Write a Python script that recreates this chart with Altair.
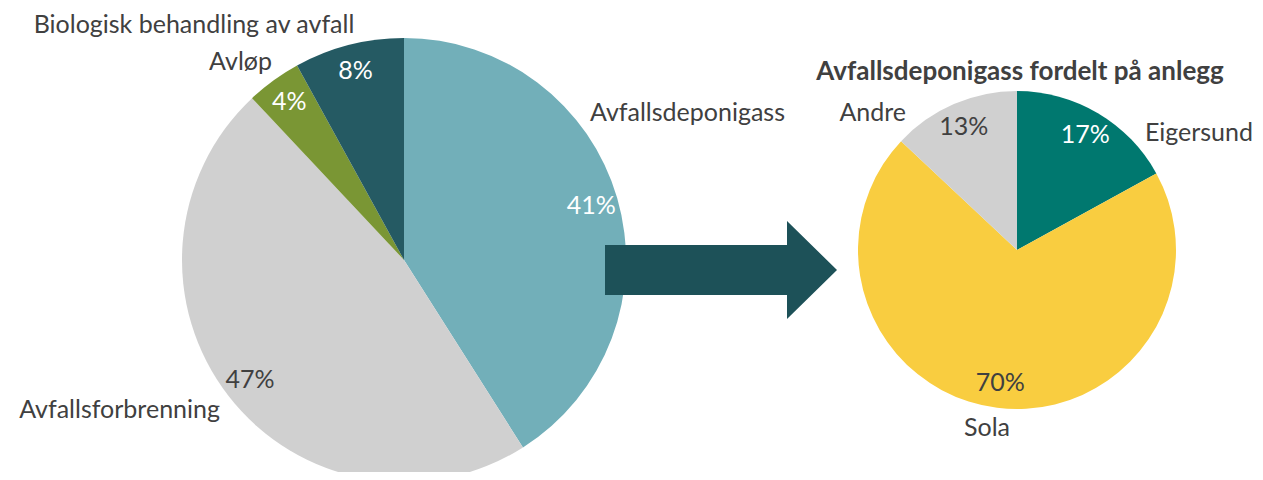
import altair as alt
import pandas as pd

# ---- data ----
left_categories = ["Avfallsdeponigass", "Avfallsforbrenning", "Avløp", "Biologisk behandling av avfall"]
left_values = [41, 47, 4, 8]
left_colors = ["#72AFB9", "#D0D0D0", "#7A9634", "#255A63"]

right_title = "Avfallsdeponigass fordelt på anlegg"
right_categories = ["Eigersund", "Sola", "Andre"]
right_values = [17, 70, 13]
right_colors = ["#00786F", "#F9CD40", "#D0D0D0"]

white_label_cats = ["Avfallsdeponigass", "Avløp", "Biologisk behandling av avfall", "Eigersund"]

# ---- layout (pixels inside the chart) ----
FONT = "Lato"
FS = 25
TXT = "#404040"
W, H = 1247, 464
LC = (396, 252); LR = 222
RC = (1009, 242); RR = 159
# category-name label anchors: (x, y, align)
name_pos = {
    "Avfallsdeponigass": (582, 105, "left"),
    "Avfallsforbrenning": (212, 402, "right"),
    "Avløp": (264, 54, "right"),
    "Biologisk behandling av avfall": (186, 17, "center"),
    "Eigersund": (1245, 125, "right"),
    "Sola": (979, 420, "center"),
    "Andre": (898, 105, "right"),
}

left_df = pd.DataFrame({
    "cat": left_categories, "value": left_values,
    "order": list(range(len(left_values))),
    "pct": [f"{v}%" for v in left_values],
})
right_df = pd.DataFrame({
    "cat": right_categories, "value": right_values,
    "order": list(range(len(right_values))),
    "pct": [f"{v}%" for v in right_values],
})

color_scale = alt.Scale(domain=left_categories + right_categories, range=left_colors + right_colors)

def pie(df, center, r, label_r):
    base = alt.Chart(df).encode(
        theta=alt.Theta("value:Q", stack=True),
        order=alt.Order("order:Q"),
        x=alt.value(center[0]), y=alt.value(center[1]),
    )
    arcs = base.mark_arc(radius=r, stroke=None).encode(
        color=alt.Color("cat:N", scale=color_scale, legend=None)
    )
    labels = base.mark_text(radius=label_r, font=FONT, fontSize=FS, align="center", baseline="middle").encode(
        text="pct:N",
        color=alt.condition(alt.FieldOneOfPredicate(field="cat", oneOf=white_label_cats),
                            alt.value("white"), alt.value(TXT)),
    )
    return arcs + labels

left = pie(left_df, LC, LR, 195)
right = pie(right_df, RC, RR, 134)

names = left_categories + right_categories
ndf = pd.DataFrame({
    "name": names,
    "lx": [name_pos[n][0] for n in names],
    "ly": [name_pos[n][1] for n in names],
    "al": [name_pos[n][2] for n in names],
})
name_layers = []
for al in ["left", "center", "right"]:
    name_layers.append(
        alt.Chart(ndf).transform_filter(alt.datum.al == al)
        .mark_text(font=FONT, fontSize=FS, color=TXT, align=al, baseline="middle")
        .encode(x=alt.X("lx:Q", scale=None), y=alt.Y("ly:Q", scale=None), text="name:N")
    )

title = alt.Chart(pd.DataFrame({"t": [right_title]})).mark_text(
    font=FONT, fontSize=26, fontWeight="bold", color=TXT, align="center", baseline="middle"
).encode(x=alt.value(1012), y=alt.value(64), text="t:N")

arrow_path = "M-1,-0.2155L0.569,-0.2155L0.569,-0.4224L1,0L0.569,0.4224L0.569,0.2155L-1,0.2155Z"
arrow = alt.Chart(pd.DataFrame({"a": [1]})).mark_point(
    shape=arrow_path, filled=True, size=232 * 232, color="#1D5158", opacity=1, strokeWidth=0
).encode(x=alt.value(713), y=alt.value(262))

chart = alt.layer(left, right, arrow, title, *name_layers).resolve_scale(theta="independent").properties(
    width=W, height=H, padding=0, autosize=alt.AutoSizeParams(type="none")
).configure_view(stroke=None)

chart.save("out.html", embed_options={"renderer": "svg", "actions": False})
